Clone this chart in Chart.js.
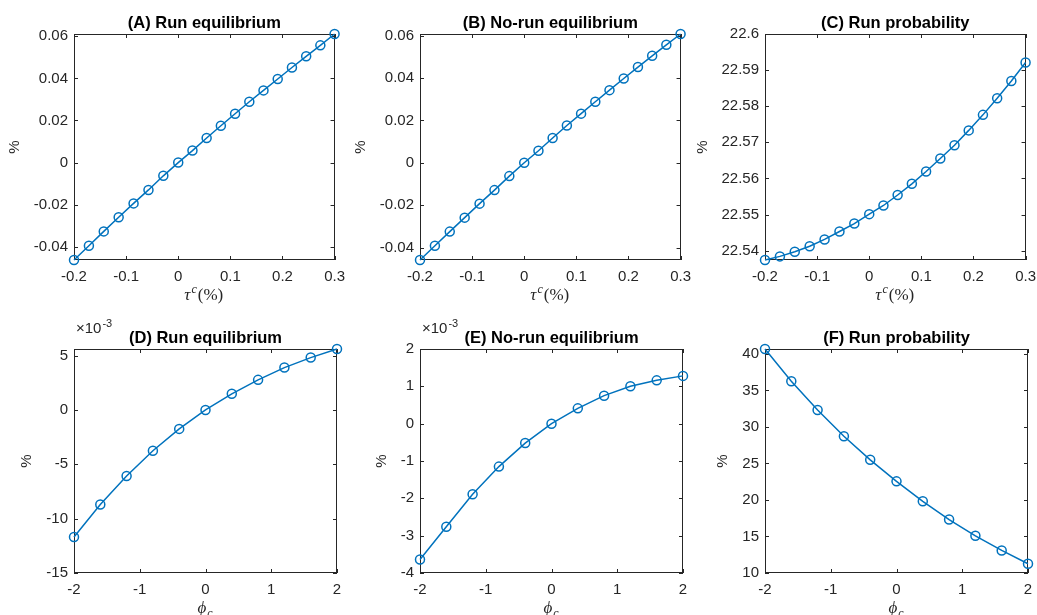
<!DOCTYPE html>
<html>
<head>
<meta charset="utf-8">
<script src="https://cdn.jsdelivr.net/npm/chart.js@4/dist/chart.umd.min.js"></script>
<style>
  html, body { margin: 0; padding: 0; background: #fff; }
  body { width: 1037px; height: 615px; overflow: hidden; position: relative; }
  canvas { position: absolute; }
</style>
</head>
<body>
<script>
// x values (top row: tau^c in %, bottom row: phi_c)
var tauX = [-0.2, -0.1714, -0.1429, -0.1143, -0.0857, -0.0571, -0.0286, 0,
  0.0273, 0.0545, 0.0818, 0.1091, 0.1364, 0.1636, 0.1909, 0.2182, 0.2455, 0.2727, 0.3];
var phiX = [-2, -1.6, -1.2, -0.8, -0.4, 0, 0.4, 0.8, 1.2, 1.6, 2];

// series
var runEqTau = [-0.0463, -0.0395, -0.0327, -0.0260, -0.0194, -0.0130, -0.0063, 0,
  0.0057, 0.0117, 0.0175, 0.0232, 0.0289, 0.0343, 0.0397, 0.0452, 0.0505, 0.0557, 0.0611];
var noRunEqTau = [-0.0459, -0.0392, -0.0325, -0.0259, -0.0193, -0.0129, -0.0063, 0,
  0.0057, 0.0117, 0.0176, 0.0232, 0.0288, 0.0343, 0.0398, 0.0452, 0.0505, 0.0557, 0.0608];
var runProbTau = [22.5374, 22.5384, 22.5397, 22.5412, 22.5431, 22.5453, 22.5475, 22.5501,
  22.5525, 22.5554, 22.5585, 22.5619, 22.5655, 22.5692, 22.5733, 22.5776, 22.5822, 22.5870, 22.5921];
var runEqPhi = [-0.01168, -0.00869, -0.00607, -0.00375, -0.00174, 0,
  0.00149, 0.00277, 0.00390, 0.00482, 0.00561];
var noRunEqPhi = [-0.00364, -0.00276, -0.00189, -0.00115, -0.00052, 0,
  0.00041, 0.00075, 0.00100, 0.00116, 0.00128];
var runProbPhi = [40.68, 36.27, 32.32, 28.73, 25.50, 22.55, 19.82, 17.32, 15.09, 13.09, 11.27];

// tick values
var tauTicks = [-0.2, -0.1, 0, 0.1, 0.2, 0.3];
var phiTicks = [-2, -1, 0, 1, 2];
var eqTauTicks = [-0.04, -0.02, 0, 0.02, 0.04, 0.06];
var probTauTicks = [22.54, 22.55, 22.56, 22.57, 22.58, 22.59, 22.6];
var runEqPhiTicks = [-0.015, -0.01, -0.005, 0, 0.005];
var noRunEqPhiTicks = [-0.004, -0.003, -0.002, -0.001, 0, 0.001, 0.002];
var probPhiTicks = [10, 15, 20, 25, 30, 35, 40];

var titles = ["(A) Run equilibrium", "(B) No-run equilibrium", "(C) Run probability",
  "(D) Run equilibrium", "(E) No-run equilibrium", "(F) Run probability"];

var INK = "#262626";
var BLUE = "#0072BD";
var SANS = "'Liberation Sans', Arial, Helvetica, sans-serif";
var SERIF = "'Liberation Serif', 'DejaVu Serif', serif";

var PAD_L = 74, PAD_T = 36, PAD_R = 16, PAD_B = 52;

function fmtTick(v, scale) {
  var n = Math.round(v * scale * 1e6) / 1e6;
  return String(n);
}

var matlabAxes = {
  id: "matlabAxes",
  beforeDatasetsDraw: function (chart) {
    var ctx = chart.ctx, a = chart.chartArea;
    var xs = chart.scales.x, ys = chart.scales.y;
    ctx.save();
    ctx.strokeStyle = INK;
    ctx.lineWidth = 1;
    ctx.strokeRect(Math.round(a.left) + 0.5, Math.round(a.top) + 0.5,
      Math.round(a.right - a.left) - 1, Math.round(a.bottom - a.top) - 1);
    ctx.beginPath();
    xs.ticks.forEach(function (t) {
      var px = Math.round(xs.getPixelForValue(t.value)) + 0.5;
      ctx.moveTo(px, a.bottom); ctx.lineTo(px, a.bottom - 4);
      ctx.moveTo(px, a.top); ctx.lineTo(px, a.top + 4);
    });
    ys.ticks.forEach(function (t) {
      var py = Math.round(ys.getPixelForValue(t.value)) + 0.5;
      ctx.moveTo(a.left, py); ctx.lineTo(a.left + 4, py);
      ctx.moveTo(a.right, py); ctx.lineTo(a.right - 4, py);
    });
    ctx.stroke();
    ctx.restore();
  },
  afterDraw: function (chart, args, opts) {
    var ctx = chart.ctx, a = chart.chartArea;
    var cx = (a.left + a.right) / 2;
    ctx.save();
    ctx.fillStyle = "#000";
    ctx.font = "bold 16.5px " + SANS;
    ctx.textAlign = "center";
    ctx.textBaseline = "middle";
    ctx.fillText(opts.title, cx, a.top - 11);

    // y label
    ctx.font = "15px " + SANS;
    var maxW = 0;
    chart.scales.y.ticks.forEach(function (t) {
      maxW = Math.max(maxW, ctx.measureText(t.label).width);
    });
    ctx.fillStyle = INK;
    ctx.save();
    ctx.translate(a.left - 6 - maxW - 19, (a.top + a.bottom) / 2);
    ctx.rotate(-Math.PI / 2);
    ctx.fillText("%", 0, 0);
    ctx.restore();

    // exponent label
    if (opts.exp) {
      ctx.textAlign = "left";
      ctx.textBaseline = "alphabetic";
      ctx.font = "15px " + SANS;
      var x0 = a.left + 2, y0 = a.top - 16;
      ctx.fillText("\u00d710", x0, y0);
      var w = ctx.measureText("\u00d710").width;
      ctx.font = "11px " + SANS;
      ctx.fillText(opts.exp, x0 + w + 1, y0 - 6);
    }

    // x label
    ctx.textBaseline = "alphabetic";
    ctx.textAlign = "left";
    var parts;
    if (opts.xlab === "tau") {
      parts = [["italic 17px " + SERIF, "\u03c4", 0], ["italic 12px " + SERIF, "c", -7], ["17px " + SERIF, "(%)", 0]];
    } else {
      parts = [["italic 17px " + SERIF, "\u03d5", 0], ["italic 12px " + SERIF, "c", 4]];
    }
    var total = 0;
    parts.forEach(function (p) { ctx.font = p[0]; total += ctx.measureText(p[1]).width + 1; });
    var x = cx - total / 2, base = a.bottom + 40;
    parts.forEach(function (p) {
      ctx.font = p[0];
      ctx.fillText(p[1], x, base + p[2]);
      x += ctx.measureText(p[1]).width + 1;
    });
    ctx.restore();
  }
};

function makePanel(i, plotLeft, plotTop, plotH, xs, ys, xTicks, yTicks, yMin, yMax, yScaleFactor, xlab, exp) {
  var canvas = document.createElement("canvas");
  var w = PAD_L + 263 + PAD_R, h = PAD_T + plotH + PAD_B;
  canvas.width = w; canvas.height = h;
  canvas.style.left = (plotLeft - PAD_L) + "px";
  canvas.style.top = (plotTop - PAD_T) + "px";
  canvas.style.width = w + "px"; canvas.style.height = h + "px";
  document.body.appendChild(canvas);

  var pts = xs.map(function (x, k) { return { x: x, y: ys[k] }; });
  var tickFont = { family: SANS, size: 15 };

  new Chart(canvas.getContext("2d"), {
    type: "scatter",
    data: {
      datasets: [{
        data: pts,
        showLine: true,
        borderColor: BLUE,
        borderWidth: 1.5,
        backgroundColor: "rgba(0,0,0,0)",
        pointRadius: 4.5,
        pointBorderWidth: 1.5,
        pointBorderColor: BLUE,
        pointBackgroundColor: "rgba(0,0,0,0)",
        clip: false
      }]
    },
    options: {
      responsive: false,
      animation: false,
      devicePixelRatio: 1,
      layout: { padding: { left: 0, top: PAD_T, right: PAD_R, bottom: 0 } },
      plugins: {
        legend: { display: false },
        tooltip: { enabled: false },
        matlabAxes: { title: titles[i], xlab: xlab, exp: exp }
      },
      scales: {
        x: {
          type: "linear",
          min: xTicks[0],
          max: xTicks[xTicks.length - 1],
          grid: { display: false, drawTicks: false },
          border: { display: false },
          afterBuildTicks: function (s) { s.ticks = xTicks.map(function (v) { return { value: v }; }); },
          afterFit: function (s) { s.height = PAD_B; },
          ticks: {
            font: tickFont, color: INK, padding: 8, maxRotation: 0, autoSkip: false,
            callback: function (v) { return fmtTick(v, 1); }
          }
        },
        y: {
          type: "linear",
          min: yMin,
          max: yMax,
          grid: { display: false, drawTicks: false },
          border: { display: false },
          afterBuildTicks: function (s) { s.ticks = yTicks.map(function (v) { return { value: v }; }); },
          afterFit: function (s) { s.width = PAD_L; },
          ticks: {
            font: tickFont, color: INK, padding: 6, autoSkip: false,
            callback: function (v) { return fmtTick(v, yScaleFactor); }
          }
        }
      }
    },
    plugins: [matlabAxes]
  });
}

var colLeft = [74, 420, 765];
var rowTop = [34, 349];

makePanel(0, colLeft[0], rowTop[0], 226, tauX, runEqTau, tauTicks, eqTauTicks,
  Math.min.apply(null, runEqTau), Math.max.apply(null, runEqTau), 1, "tau", null);
makePanel(1, colLeft[1], rowTop[0], 226, tauX, noRunEqTau, tauTicks, eqTauTicks,
  Math.min.apply(null, noRunEqTau), Math.max.apply(null, noRunEqTau), 1, "tau", null);
makePanel(2, colLeft[2], rowTop[0], 226, tauX, runProbTau, tauTicks, probTauTicks,
  Math.min.apply(null, runProbTau), 22.6, 1, "tau", null);
makePanel(3, colLeft[0], rowTop[1], 224, phiX, runEqPhi, phiTicks, runEqPhiTicks,
  -0.015, Math.max.apply(null, runEqPhi), 1000, "phi", "-3");
makePanel(4, colLeft[1], rowTop[1], 224, phiX, noRunEqPhi, phiTicks, noRunEqPhiTicks,
  -0.004, 0.002, 1000, "phi", "-3");
makePanel(5, colLeft[2], rowTop[1], 224, phiX, runProbPhi, phiTicks, probPhiTicks,
  10, Math.max.apply(null, runProbPhi), 1, "phi", null);
</script>
</body>
</html>
